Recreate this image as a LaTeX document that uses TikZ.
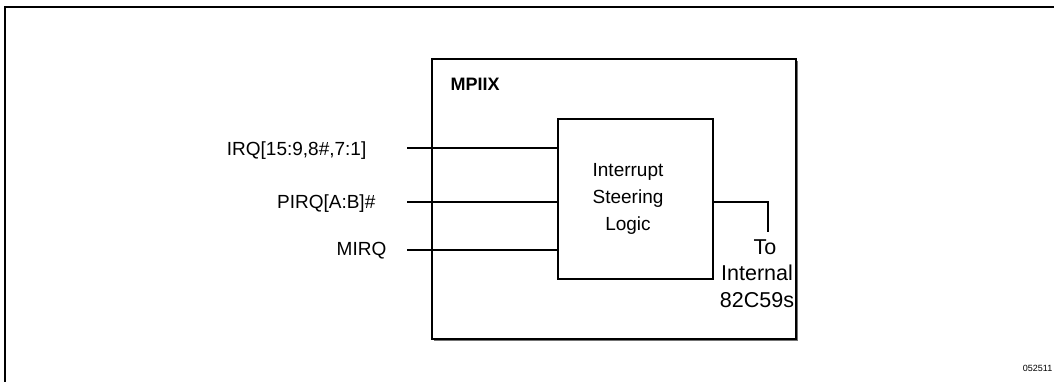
\documentclass[tikz,border=0pt]{standalone}
\usepackage{fontspec}
\setmainfont{Liberation Sans}
\usetikzlibrary{shadows}

\begin{document}
\begin{tikzpicture}[x=1pt,y=-1pt,line width=1.4pt,
		box node/.style={rectangle,draw,fill=white,inner sep=0pt},
		sig label/.style={anchor=east,inner sep=0pt,font=\fontsize{19}{27}\selectfont}]

		\useasboundingbox (0,0) rectangle (1054,381);
		\draw[line width=2.5pt] (1056,7) -- (5,7) -- (5,383);

		\node[box node,minimum width=364pt,minimum height=280pt,
			drop shadow={shadow xshift=1.5pt,shadow yshift=-1.5pt,fill=black!55,opacity=1}] (mpiix) at (614,199) {};
		\node[anchor=west,inner sep=0pt,font=\bfseries\fontsize{18}{22}\selectfont] (mpiixname) at (450,84) {MPIIX};
		\node[box node,minimum width=155pt,minimum height=160pt] (logic) at (635.5,199) {};
		\node[inner sep=0pt,align=center,font=\fontsize{19}{27}\selectfont] (logictext) at (628,199) {Interrupt\\Steering\\Logic};

		\node[sig label] (irq) at (367,151) {IRQ[15:9,8\#,7:1]};
		\node[sig label] (pirq) at (376,204) {PIRQ[A:B]\#};
		\node[sig label] (mirq) at (387,251) {MIRQ};

		\coordinate (irqin) at (407,148);
		\coordinate (pirqin) at (407,202);
		\coordinate (mirqin) at (407,250);
		\coordinate (turn) at (768,202);
		\coordinate (outend) at (768,232);

		\path[draw]
		(irqin) edge (irqin -| logic.west)
		(pirqin) edge (pirqin -| logic.west)
		(mirqin) edge (mirqin -| logic.west);
		\draw (turn -| logic.east) -- (turn) -- (outend);

		\node[anchor=north,inner sep=0pt,align=center,font=\fontsize{21.5}{26.5}\selectfont] (pics) at (757,239) {\hspace*{16pt}To\\Internal\\82C59s};
		\node[anchor=east,inner sep=0pt,font=\fontsize{9}{11}\selectfont] (fignum) at (1053,368) {052511};
	\end{tikzpicture}
\end{document}
